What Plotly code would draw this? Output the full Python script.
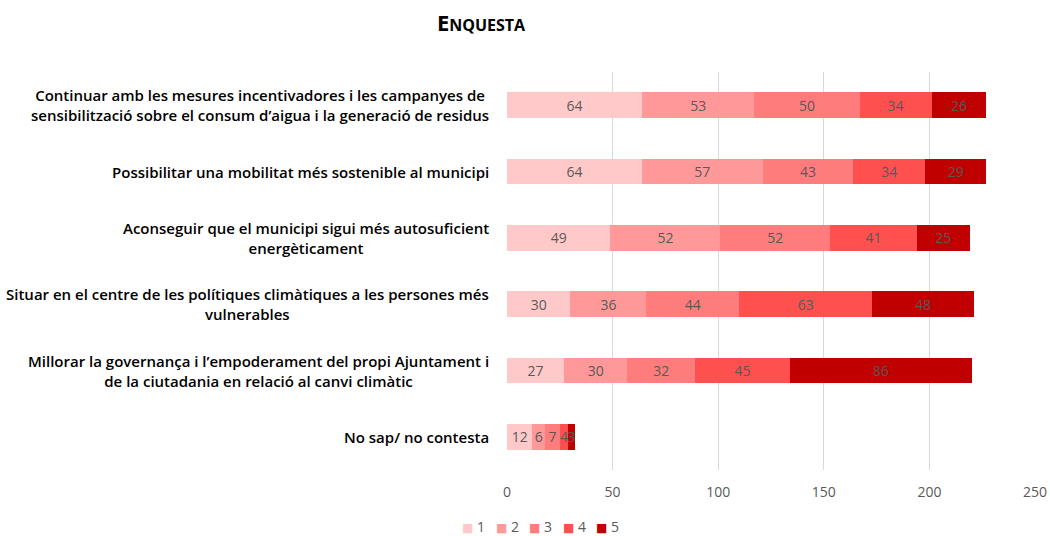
import plotly.graph_objects as go

categories = [
    "Continuar amb les mesures incentivadores i les campanyes de<br>sensibilització sobre el consum d’aigua i la generació de residus",
    "Possibilitar una mobilitat més sostenible al municipi",
    "Aconseguir que el municipi sigui més autosuficient<br>energèticament",
    "Situar en el centre de les polítiques climàtiques a les persones més<br>vulnerables",
    "Millorar la governança i l’empoderament del propi Ajuntament i<br>de la ciutadania en relació al canvi climàtic",
    "No sap/ no contesta",
]
series_names = ["1", "2", "3", "4", "5"]
v1 = [64, 64, 49, 30, 27, 12]
v2 = [53, 57, 52, 36, 30, 6]
v3 = [50, 43, 52, 44, 32, 7]
v4 = [34, 34, 41, 63, 45, 4]
v5 = [26, 29, 25, 48, 86, 3]
colors = ["#FFC9C9", "#FF9999", "#FF7C7C", "#FF5050", "#C00000"]
tickvals = [0, 50, 100, 150, 200, 250]

FONT = "Open Sans"
W, H = 1050, 536
ML, MR, MT, MB = 507, 15, 72, 66
PW = W - ML - MR

fig = go.Figure()
for name, vals, col in zip(series_names, [v1, v2, v3, v4, v5], colors):
    fig.add_trace(go.Bar(
        y=categories, x=vals, name=name, orientation="h",
        marker=dict(color=col, line=dict(width=0)),
        text=[str(v) for v in vals], textposition="inside",
        insidetextanchor="middle",
        textfont=dict(color="#595959", size=14, family=FONT),
        width=0.39, showlegend=False,
    ))

annotations = []
# category labels (centred multi-line, right-aligned block)
for c in categories:
    annotations.append(dict(
        text=c, xref="paper", yref="y", x=0, y=c, xanchor="right", yanchor="middle",
        xshift=-16, align="center", showarrow=False,
        font=dict(family=FONT, size=15, color="black", weight=600),
    ))
# legend built from text swatches
leg_left = 461
leg_step = 33.5
for i, (name, col) in enumerate(zip(series_names, colors)):
    px = leg_left + i * leg_step
    annotations.append(dict(
        text=f"<span style='color:{col};font-family:DejaVu Sans;font-size:12px'>■</span> {name}",
        xref="paper", yref="paper", x=(px - ML) / PW, y=-(526 - (H - MB)) / (H - MT - MB),
        xanchor="left", yanchor="middle", showarrow=False, borderpad=0,
        font=dict(family=FONT, size=14, color="#595959"),
    ))

fig.update_layout(
    barmode="stack",
    width=W, height=H,
    margin=dict(l=ML, r=MR, t=MT, b=MB),
    paper_bgcolor="white", plot_bgcolor="white",
    font=dict(family=FONT, color="#595959", size=14),
    title=dict(
        text="<b>E<span style='font-size:16px'>NQUESTA</span></b>",
        xref="container", x=481 / W, xanchor="center",
        yref="container", y=1 - 23 / H, yanchor="middle",
        font=dict(family=FONT, size=22, color="black"),
    ),
    showlegend=False,
    annotations=annotations,
    uniformtext=dict(minsize=14, mode="show"),
)
fig.update_xaxes(
    range=[0, 250], tickvals=tickvals, showgrid=True, gridcolor="#D9D9D9",
    zeroline=False, showline=False, ticks="", ticklabelstandoff=12,
    tickfont=dict(size=14, color="#595959", family=FONT), automargin=False,
)
fig.update_yaxes(
    autorange="reversed", showgrid=False, ticks="", showticklabels=False,
    automargin=False,
)

fig.write_html("out.html", config={"displayModeBar": False},
               post_script="document.body.style.margin='0';")
